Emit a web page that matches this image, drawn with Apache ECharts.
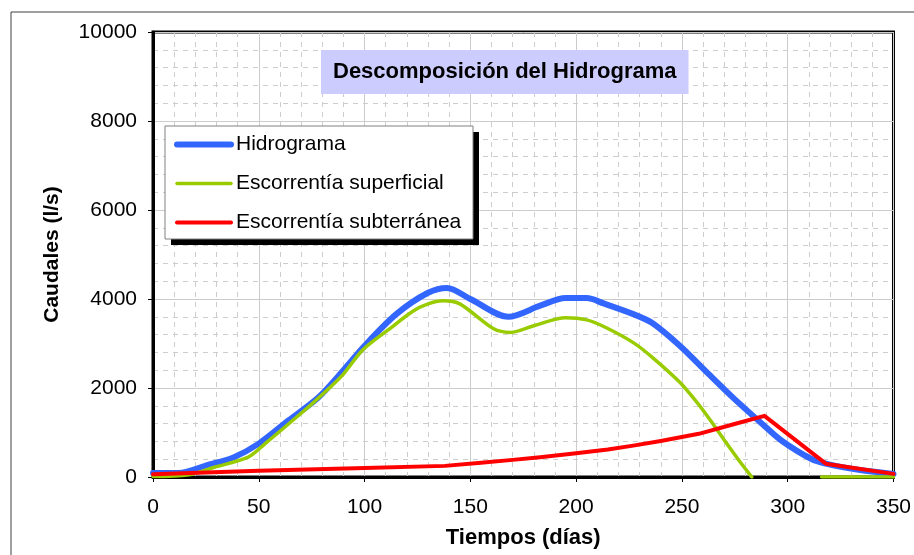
<!DOCTYPE html>
<html>
<head>
<meta charset="utf-8">
<script src="https://cdn.jsdelivr.net/npm/echarts@6/dist/echarts.min.js"></script>
<style>
  html, body { margin: 0; padding: 0; background: #fff; }
  #chart { width: 914px; height: 555px; }
</style>
</head>
<body>
<div id="chart"></div>
<script>
// Hidrograma total (l/s) por día
const hydroDays = [0, 12, 26, 38, 50, 64, 78, 90, 100, 115, 130, 139, 150, 168, 183, 195, 205, 213, 227, 236, 249, 261, 274, 288, 297, 311, 319, 335, 350];
const hydroFlow = [90, 90, 270, 440, 750, 1270, 1780, 2400, 2950, 3660, 4140, 4250, 4000, 3600, 3850, 4020, 4020, 3900, 3660, 3460, 2950, 2390, 1790, 1190, 820, 410, 290, 150, 70];

// Escorrentía superficial (l/s); sin valor visible entre los días 283 y 316
const surfDays = [0, 17, 29, 45, 53, 65, 76, 89, 99, 111, 123, 130, 137, 145, 161, 169, 180, 195, 205, 214, 227, 236, 249, 255, 260, 265, 270, 277, 283, 300, 316, 350];
const surfFlow = [10, 50, 220, 445, 750, 1230, 1680, 2260, 2850, 3300, 3730, 3890, 3960, 3890, 3330, 3250, 3400, 3580, 3530, 3360, 3020, 2690, 2130, 1800, 1500, 1170, 830, 370, 0, null, 0, 0];

// Escorrentía subterránea (l/s)
const baseDays = [0, 50, 100, 138, 155, 170, 183, 200, 215, 227, 240, 258, 274, 289, 318, 350];
const baseFlow = [60, 140, 200, 250, 320, 385, 445, 535, 620, 705, 810, 970, 1180, 1375, 300, 70];

const seriesNames = ['Hidrograma', 'Escorrentía superficial', 'Escorrentía subterránea'];
const seriesColors = ['#3366ff', '#99cc00', '#ff0000'];
const seriesWidths = [6, 3.5, 4];
const xTicks = { min: 0, max: 350, step: 50 };
const yTicks = { min: 0, max: 10000, step: 2000 };

const FONT = '"Liberation Sans", Arial, sans-serif';
const pairs = (xs, ys) => xs.map((x, i) => [x, ys[i]]);

const chart = echarts.init(document.getElementById('chart'), null, { renderer: 'canvas' });

const gridLine = { color: '#cccccc', width: 1 };
const minorLine = { color: '#cdcdcd', width: 1, type: [5, 5] };

// legend frame: black drop shadow, then white box with grey edge
const legendBox = { x: 165, y: 126, width: 308, height: 113 };

const lineStyleOf = i => ({ color: seriesColors[i], width: seriesWidths[i], cap: 'round', join: 'round' });

chart.setOption({
  animation: false,
  backgroundColor: '#ffffff',
  title: {
    text: 'Descomposición del Hidrograma',
    left: 321,
    top: 50,
    padding: [11, 12, 11, 12],
    backgroundColor: '#ccccff',
    textStyle: { fontFamily: FONT, fontSize: 22, fontWeight: 'bold', color: '#000' }
  },
  graphic: [
    {
      type: 'rect',
      z: -10,
      shape: { x: 11, y: 12, width: 950, height: 600 },
      style: { fill: 'none', stroke: '#404040', lineWidth: 1 },
      silent: true
    },
    {
      type: 'rect',
      z: 3,
      shape: { x: legendBox.x + 6, y: legendBox.y + 6, width: legendBox.width, height: legendBox.height },
      style: { fill: '#000000' },
      silent: true
    },
    {
      type: 'rect',
      z: 3,
      shape: legendBox,
      style: { fill: '#ffffff', stroke: '#808080', lineWidth: 1 },
      silent: true
    }
  ],
  legend: {
    data: seriesNames.map((name, i) => ({
      name,
      lineStyle: { color: seriesColors[i], width: seriesWidths[i], cap: 'round' }
    })),
    orient: 'vertical',
    left: 174,
    top: 134,
    padding: 0,
    itemWidth: 54,
    itemHeight: 20,
    itemGap: 18,
    z: 5,
    itemStyle: { opacity: 0 },
    textStyle: { fontFamily: FONT, fontSize: 21, color: '#000' }
  },
  grid: {
    left: 153, top: 32, width: 742, height: 445,
    show: true, borderColor: '#000', borderWidth: 3, backgroundColor: 'transparent'
  },
  xAxis: {
    type: 'value',
    min: xTicks.min, max: xTicks.max, interval: xTicks.step,
    name: 'Tiempos (días)',
    nameLocation: 'middle',
    nameGap: 50,
    nameTextStyle: { fontFamily: FONT, fontSize: 22, fontWeight: 'bold', color: '#000' },
    axisLine: { show: true, onZero: false, lineStyle: { color: '#000', width: 3 } },
    axisTick: { show: true, inside: false, length: 5, lineStyle: { color: '#000', width: 1 } },
    axisLabel: { margin: 20, fontFamily: FONT, fontSize: 21, color: '#000' },
    splitLine: { show: true, lineStyle: gridLine },
    minorTick: { show: false, splitNumber: 5 },
    minorSplitLine: { show: true, lineStyle: minorLine }
  },
  yAxis: {
    type: 'value',
    min: yTicks.min, max: yTicks.max, interval: yTicks.step,
    name: 'Caudales (l/s)',
    nameLocation: 'middle',
    nameGap: 90,
    nameTextStyle: { fontFamily: FONT, fontSize: 21, fontWeight: 'bold', color: '#000' },
    axisLine: { show: true, lineStyle: { color: '#000', width: 3 } },
    axisTick: { show: true, inside: false, length: 5, lineStyle: { color: '#000', width: 1 } },
    axisLabel: { margin: 16, fontFamily: FONT, fontSize: 21, color: '#000', formatter: v => String(v) },
    splitLine: { show: true, lineStyle: gridLine },
    minorTick: { show: false, splitNumber: 5 },
    minorSplitLine: { show: true, lineStyle: minorLine }
  },
  series: [
    {
      name: seriesNames[0], type: 'line', data: pairs(hydroDays, hydroFlow),
      smooth: 0.3, symbol: 'none', z: 2,
      lineStyle: lineStyleOf(0),
      itemStyle: { color: seriesColors[0] }
    },
    {
      name: seriesNames[1], type: 'line', data: pairs(surfDays, surfFlow),
      smooth: 0.3, symbol: 'none', connectNulls: false, z: 3,
      lineStyle: lineStyleOf(1),
      itemStyle: { color: seriesColors[1] }
    },
    {
      name: seriesNames[2], type: 'line', data: pairs(baseDays, baseFlow),
      smooth: false, symbol: 'none', z: 4,
      lineStyle: lineStyleOf(2),
      itemStyle: { color: seriesColors[2] }
    }
  ]
});
</script>
</body>
</html>
